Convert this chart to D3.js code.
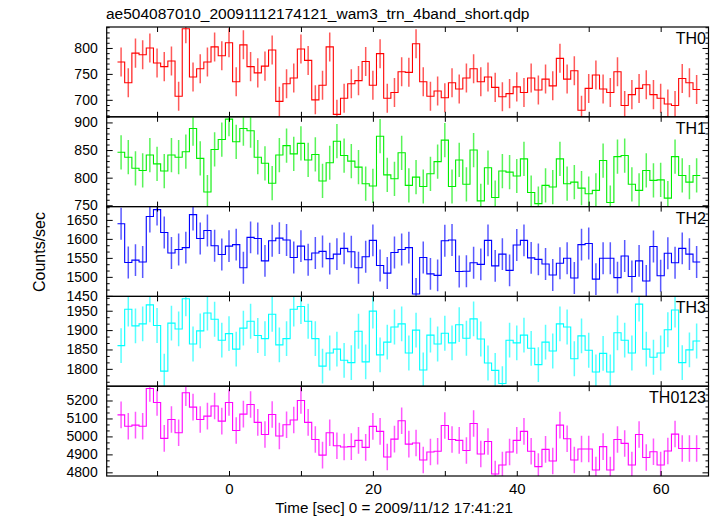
<!DOCTYPE html>
<html><head><meta charset="utf-8">
<script src="https://cdn.jsdelivr.net/npm/d3@7"></script>
<style>
body{margin:0;background:#fff}
text{font-family:"Liberation Sans",Arial,Helvetica,sans-serif;fill:#000}
</style>
</head><body>
<svg id="chart" width="717" height="516"></svg>
<script>
const title = "ae504087010_20091112174121_wam3_trn_4band_short.qdp";
const xLabel = "Time [sec] 0 = 2009/11/12 17:41:21";
const yLabel = "Counts/sec";
const panelNames = ["TH0", "TH1", "TH2", "TH3", "TH0123"];

const times = [-15,-14,-13,-12,-11,-10,-9,-8,-7,-6,-5,-4,-3,-2,-1,0,1,2,3,4,5,6,7,8,9,10,
  11,12,13,14,15,16,17,18,19,20,21,22,23,24,25,26,27,28,29,30,31,32,33,34,35,36,37,38,39,40,
  41,42,43,44,45,46,47,48,49,50,51,52,53,54,55,56,57,58,59,60,61,62,63,64,65];

const th0 = [773,733,790,787,800,771,764,775,707,837,744,760,773,802,785,810,735,806,764,752,
  765,796,697,731,742,798,776,700,728,802,672,703,731,737,774,728,789,703,714,754,
  753,808,735,707,717,704,733,721,742,760,735,744,724,706,712,725,714,742,719,740,
  727,780,740,756,680,722,748,721,714,754,689,710,722,729,710,703,692,689,741,733,720];
const th1 = [846,837,817,813,841,825,812,841,837,847,889,835,774,851,869,906,865,889,885,837,
  826,790,841,858,843,862,832,842,794,827,866,840,830,819,789,785,875,805,798,845,
  786,801,784,807,829,868,784,832,788,850,758,818,764,812,810,803,834,773,753,786,
  783,834,789,792,781,771,777,831,755,838,840,788,777,813,795,796,763,838,804,792,804];
const th2 = [1640,1538,1544,1539,1659,1677,1617,1563,1572,1577,1664,1601,1622,1582,1559,1581,1585,1524,1604,1601,
  1542,1595,1602,1597,1551,1581,1545,1563,1567,1548,1560,1575,1566,1524,1553,1596,1530,1510,1564,1572,
  1577,1455,1551,1508,1504,1595,1597,1514,1515,1537,1533,1596,1529,1560,1517,1584,1596,1550,1546,1534,
  1505,1536,1549,1497,1585,1588,1494,1549,1549,1498,1555,1501,1542,1489,1580,1503,1562,1537,1575,1560,1539];
const th3 = [1860,1954,1911,1916,1965,1912,1794,1918,1903,1981,1864,1898,1944,1928,1874,1891,1851,1905,1923,1886,
  1878,1941,1862,1878,1954,1961,1923,1878,1807,1841,1851,1822,1816,1897,1818,1949,1836,1869,1908,1916,
  1841,1900,1797,1887,1864,1892,1867,1914,1879,1929,1877,1815,1796,1762,1874,1867,1887,1853,1811,1869,
  1846,1916,1908,1826,1885,1848,1792,1840,1792,1893,1874,1841,1967,1851,1830,1841,1901,1952,1816,1849,1872];
const th0123 = [5120,5057,5063,5057,5267,5189,4989,5094,5020,5243,5163,5094,5113,5169,5085,5189,5033,5124,5178,5078,
  5011,5122,5002,5065,5091,5200,5078,4983,4896,5020,4948,4941,4943,4978,4939,5056,5028,4885,4985,5087,
  4957,4963,4869,4913,4917,5061,4983,4978,4922,5072,4902,4972,4791,4841,4913,4978,5028,4917,4832,4928,
  4863,5063,4987,4869,4930,4930,4813,4943,4813,4983,4961,4841,5011,4883,4915,4841,4919,5013,4933,4933,4933];

const errors = [28, 31, 42, 45, 74];
const yTickValues = [
  [700, 750, 800],
  [750, 800, 850, 900],
  [1450, 1500, 1550, 1600, 1650],
  [1800, 1850, 1900, 1950],
  [4800, 4900, 5000, 5100, 5200]
];
const xTickValues = [-10, 0, 10, 20, 30, 40, 50, 60];
const xTickLabels = [0, 20, 40, 60];

// ---- layout / style ----
const series = [th0, th1, th2, th3, th0123];
const colors = ["#ff0000", "#00ee00", "#0000ff", "#00ffff", "#ff00ff"];
const yDomains = [[667.3, 840.4], [747.6, 910.2], [1448.6, 1685], [1755.2, 1987], [4779.6, 5279.6]];
const minorSteps = [10, 10, 50 / 3, 50 / 3, 100 / 3];
const plotLeft = 106.7, plotRight = 708.5, plotTop = 27, panelH = 89.8;
const binHalf = 0.5;
const FONT = "'Liberation Sans',Arial,sans-serif";

const svg = d3.select("#chart");
svg.append("rect").attr("width", 717).attr("height", 516).attr("fill", "#fff");

const x = d3.scaleLinear().domain([-17, 66.65]).range([plotLeft, plotRight]);

function minorTicks(dom, step, majors) {
  const out = [];
  const start = Math.ceil((majors[0] - dom[0]) / step);
  for (let k = -start; ; k++) {
    const v = majors[0] + k * step;
    if (v > dom[1]) break;
    if (v >= dom[0] && !majors.some(m => Math.abs(m - v) < 1e-6)) out.push(v);
  }
  return out;
}

series.forEach((vals, i) => {
  const y0 = plotTop + i * panelH, y1 = plotTop + (i + 1) * panelH;
  const y = d3.scaleLinear().domain(yDomains[i]).range([y1, y0]);
  const g = svg.append("g");

  const clipId = "clip" + i;
  svg.append("clipPath").attr("id", clipId)
    .append("rect").attr("x", plotLeft).attr("y", y0).attr("width", plotRight - plotLeft).attr("height", panelH);

  const plot = g.append("g").attr("clip-path", `url(#${clipId})`);

  // error bars
  plot.selectAll("line.err").data(vals).enter().append("line")
    .attr("class", "err")
    .attr("x1", (d, j) => x(times[j])).attr("x2", (d, j) => x(times[j]))
    .attr("y1", d => y(d - errors[i])).attr("y2", d => y(d + errors[i]))
    .attr("stroke", colors[i]).attr("stroke-width", 1.5).attr("stroke-opacity", 0.65);

  // step histogram
  const pts = vals.map((v, j) => [times[j] - binHalf, v]);
  pts.push([times[times.length - 1] + binHalf, vals[vals.length - 1]]);
  const line = d3.line().x(d => x(d[0])).y(d => y(d[1])).curve(d3.curveStepAfter);
  plot.append("path").attr("d", line(pts))
    .attr("fill", "none").attr("stroke", colors[i]).attr("stroke-width", 1.1);

  // y axes
  const yl = g.append("g").attr("transform", `translate(${plotLeft},0)`)
    .call(d3.axisLeft(y).tickValues(yTickValues[i]).tickSize(-6).tickPadding(9).tickFormat(d3.format("d")));
  yl.select(".domain").remove();
  yl.selectAll("text").attr("font-size", 14).style("font-family", FONT);
  const minors = minorTicks(yDomains[i], minorSteps[i], yTickValues[i]);
  const ylm = g.append("g").attr("transform", `translate(${plotLeft},0)`)
    .call(d3.axisLeft(y).tickValues(minors).tickSize(-3).tickFormat(""));
  ylm.select(".domain").remove();
  const yr = g.append("g").attr("transform", `translate(${plotRight},0)`)
    .call(d3.axisRight(y).tickValues(yTickValues[i]).tickSize(-6).tickFormat(""));
  yr.select(".domain").remove();
  const yrm = g.append("g").attr("transform", `translate(${plotRight},0)`)
    .call(d3.axisRight(y).tickValues(minors).tickSize(-3).tickFormat(""));
  yrm.select(".domain").remove();

  // x axes
  const xt = g.append("g").attr("transform", `translate(0,${y0})`)
    .call(d3.axisTop(x).tickValues(xTickValues).tickSize(-5).tickFormat(""));
  xt.select(".domain").remove();
  const last = i === series.length - 1;
  const xb = g.append("g").attr("transform", `translate(0,${y1})`)
    .call(d3.axisBottom(x).tickValues(xTickValues).tickSize(-5).tickPadding(7)
      .tickFormat(d => (last && xTickLabels.includes(d)) ? String(d) : ""));
  xb.select(".domain").remove();
  xb.selectAll("text").attr("font-size", 15).style("font-family", FONT);

  g.selectAll(".tick line").attr("stroke", "#000").attr("stroke-width", 1);

  // frame
  g.append("rect").attr("x", plotLeft).attr("y", y0).attr("width", plotRight - plotLeft).attr("height", panelH)
    .attr("fill", "none").attr("stroke", "#000").attr("stroke-width", 1.2);

  // panel name
  g.append("text").attr("x", 706).attr("y", y0 + 17).attr("text-anchor", "end")
    .attr("font-size", 16).text(panelNames[i]);
});

svg.append("text").attr("x", 106).attr("y", 19).attr("font-size", 15.5).text(title);
svg.append("text").attr("x", 394).attr("y", 513).attr("text-anchor", "middle")
  .attr("font-size", 15.2).text(xLabel);
svg.append("text").attr("transform", `translate(45,252) rotate(-90)`)
  .attr("text-anchor", "middle").attr("font-size", 16).text(yLabel);
</script>
</body></html>
